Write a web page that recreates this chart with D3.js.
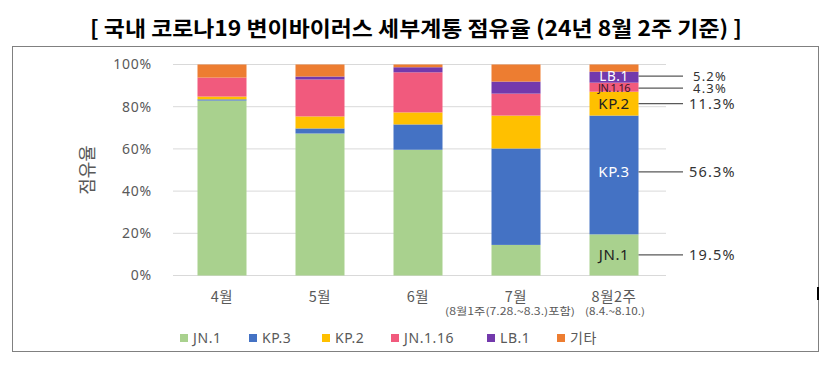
<!DOCTYPE html>
<html>
<head>
<meta charset="utf-8">
<script src="https://cdn.jsdelivr.net/npm/d3@7"></script>
<style>
  body { margin: 0; background: #fff; }
  svg { display: block; font-family: "Noto Sans", "Noto Sans CJK KR", sans-serif; }
</style>
</head>
<body>
<div id="chart"></div>
<script>
const months = ["4월", "5월", "6월", "7월", "8월2주"];
const subLabels = ["", "", "", "(8월1주(7.28.~8.3.)포함)", "(8.4.~8.10.)"];
const subWidths = [0, 0, 0, 130, 60];
const variants = ["JN.1", "KP.3", "KP.2", "JN.1.16", "LB.1", "기타"];
const colors = ["#A9D18E", "#4472C4", "#FFC000", "#F15A7D", "#7339AC", "#ED7D31"];

// share (%) per month, one array per variant
const jn1 = [82.9, 67.3, 59.6, 14.5, 19.5];
const kp3 = [0.6, 2.4, 12.0, 45.7, 56.3];
const kp2 = [1.3, 5.7, 5.7, 15.6, 11.3];
const jn116 = [9.0, 17.5, 19.0, 10.4, 4.3];
const lb1 = [0.0, 1.4, 2.4, 5.7, 5.2];
const etc = [6.2, 5.7, 1.3, 8.1, 3.4];
const yTicks = [0, 20, 40, 60, 80, 100];

const series = [jn1, kp3, kp2, jn116, lb1, etc];
const rows = months.map((m, i) => {
  const r = { month: m };
  variants.forEach((v, j) => (r[v] = series[j][i]));
  return r;
});

const width = 831, height = 367;
const svg = d3.select("#chart").append("svg").attr("width", width).attr("height", height);

// dotted frame
svg.append("rect")
  .attr("x", 12.5).attr("y", 46.5).attr("width", 806).attr("height", 305)
  .attr("fill", "none").attr("stroke", "#000").attr("stroke-width", 1)
  .attr("stroke-dasharray", "1,1");
svg.append("line")
  .attr("x1", 818).attr("x2", 818).attr("y1", 287).attr("y2", 300)
  .attr("stroke", "#000").attr("stroke-width", 2);

svg.append("text")
  .attr("x", 90).attr("y", 36)
  .attr("textLength", 652).attr("lengthAdjust", "spacingAndGlyphs")
  .style("font-family", "'Noto Sans CJK KR', sans-serif")
  .style("font-size", "21px").style("font-weight", "bold").attr("fill", "#000")
  .text("[ 국내 코로나19 변이바이러스 세부계통 점유율 (24년 8월 2주 기준) ]");

const x = d3.scaleBand().domain(months).range([173, 663]).paddingInner(0.5).paddingOuter(0.25);
const y = d3.scaleLinear().domain([0, 100]).range([275.5, 64.5]);

// grid
svg.append("g").selectAll("line").data(yTicks).join("line")
  .attr("x1", 173).attr("x2", 666)
  .attr("y1", d => y(d)).attr("y2", d => y(d))
  .attr("stroke", "#D9D9D9").attr("stroke-width", 1);

const yAxis = svg.append("g").attr("transform", "translate(158,0)")
  .call(d3.axisLeft(y).tickValues(yTicks).tickFormat(d => d + "%").tickSize(0).tickPadding(6));
yAxis.select(".domain").remove();
yAxis.selectAll("text").attr("fill", "#595959").style("font-size", "14px")
  .style("font-family", "'Noto Sans', sans-serif").style("letter-spacing", "0.8px");

svg.append("text")
  .attr("transform", "translate(94,170) rotate(-90)")
  .attr("text-anchor", "middle").attr("fill", "#595959")
  .style("font-size", "18px").style("font-family", "'Noto Sans CJK KR', sans-serif")
  .text("점유율");

const stacked = d3.stack().keys(variants)(rows);

svg.append("g").selectAll("g").data(stacked).join("g")
  .attr("fill", (d, i) => colors[i])
  .selectAll("rect").data(d => d).join("rect")
  .attr("x", d => x(d.data.month))
  .attr("width", x.bandwidth())
  .attr("y", d => y(d[1]))
  .attr("height", d => y(d[0]) - y(d[1]));

// x labels
const xl = svg.append("g");
xl.selectAll("text.m").data(months).join("text").attr("class", "m")
  .attr("x", d => x(d) + x.bandwidth() / 2).attr("y", 302)
  .attr("text-anchor", "middle").attr("fill", "#595959")
  .style("font-size", "14.5px").style("letter-spacing", "0.5px")
  .style("font-family", "'Noto Sans CJK KR', sans-serif")
  .text(d => d);
xl.selectAll("text.s").data(subLabels).join("text").attr("class", "s")
  .attr("x", (d, i) => x(months[i]) + x.bandwidth() / 2 + (i === 3 ? -6 : 1)).attr("y", 315)
  .attr("text-anchor", "middle").attr("fill", "#595959")
  .attr("textLength", (d, i) => subWidths[i] || null)
  .attr("lengthAdjust", "spacingAndGlyphs")
  .style("font-size", "10px")
  .style("font-family", "'Noto Sans CJK KR', sans-serif")
  .text(d => d);

// labels on last bar
const last = months.length - 1;
const lastMonth = months[last];
const labelColors = ["#222", "#fff", "#222", "#3a1525", "#fff"];
const labelSizes = [15, 15, 15, 11, 13.5];
const labelShift = [0, -3, 0, 1, -1];
const labelData = variants.slice(0, 5).map((v, j) => {
  const seg = stacked[j][last];
  return { name: v, value: series[j][last], mid: (seg[0] + seg[1]) / 2, j };
});
const lab = svg.append("g");
lab.selectAll("text.in").data(labelData).join("text").attr("class", "in")
  .attr("x", x(lastMonth) + x.bandwidth() / 2)
  .attr("y", d => y(d.mid) + labelShift[d.j])
  .attr("dy", "0.35em").attr("text-anchor", "middle")
  .attr("fill", d => labelColors[d.j])
  .style("font-size", d => labelSizes[d.j] + "px")
  .style("letter-spacing", d => (d.j === 3 ? "-0.6px" : "0.6px"))
  .style("font-family", "'Noto Sans', sans-serif")
  .text(d => d.name);
lab.selectAll("line").data(labelData).join("line")
  .attr("x1", x(lastMonth) + x.bandwidth()).attr("x2", 683)
  .attr("y1", d => y(d.mid) + labelShift[d.j]).attr("y2", d => y(d.mid) + labelShift[d.j])
  .attr("stroke", "#595959").attr("stroke-width", 1.2);
lab.selectAll("text.val").data(labelData).join("text").attr("class", "val")
  .attr("x", d => (d.value >= 10 ? 689 : 693)).attr("y", d => y(d.mid) + labelShift[d.j])
  .attr("dy", "0.35em").attr("fill", "#333")
  .style("font-size", d => (d.value < 10 ? "13px" : "14.5px")).style("letter-spacing", "1.2px")
  .style("font-family", "'Noto Sans', sans-serif")
  .text(d => d.value.toFixed(1) + "%");

// legend
const legendX = [180, 249, 322, 391, 487, 557];
const lg = svg.append("g").selectAll("g").data(variants).join("g")
  .attr("transform", (d, i) => `translate(${legendX[i]},338)`);
lg.append("rect").attr("x", 0).attr("y", -4).attr("width", 8).attr("height", 8)
  .attr("fill", (d, i) => colors[i]);
lg.append("text").attr("x", 13).attr("y", 0).attr("dy", "0.35em")
  .attr("fill", "#595959").style("font-size", "14px").style("letter-spacing", "0.6px")
  .style("font-family", "'Noto Sans', 'Noto Sans CJK KR', sans-serif")
  .text(d => d);
</script>
</body>
</html>
